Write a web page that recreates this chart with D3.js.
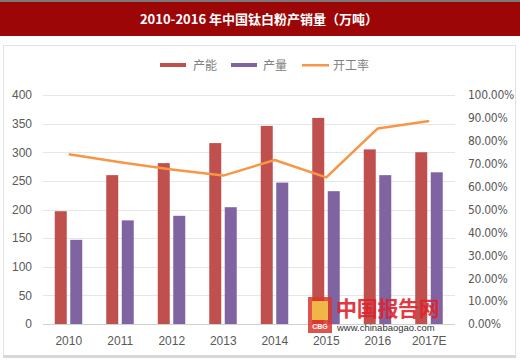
<!DOCTYPE html>
<html><head><meta charset="utf-8">
<script src="https://cdn.jsdelivr.net/npm/d3@7"></script>
<style>body{margin:0;background:#fff}svg{display:block}</style>
</head><body>
<svg id="c" width="520" height="361"></svg>
<script>
const categories = ["2010","2011","2012","2013","2014","2015","2016","2017E"];
const capacity = [197, 260, 281, 316, 346, 360, 305, 300];
const output = [147, 181, 189, 204, 247, 232, 260, 265];
const utilization = [74.1, 70.6, 67.5, 64.8, 71.6, 64.0, 85.4, 88.6];
const leftTicks = [0,50,100,150,200,250,300,350,400];
const rightTicks = [0,10,20,30,40,50,60,70,80,90,100];
const seriesNames = ["产能","产量","开工率"];
const colors = ["#c0504d","#8064a2","#f79646"];

const svg = d3.select("#c");
// title bar
svg.append("rect").attr("x",0).attr("y",0).attr("width",520).attr("height",2).attr("fill","#7a7a7a");
svg.append("rect").attr("x",0).attr("y",2).attr("width",520).attr("height",34).attr("fill","#9c0606");
svg.append("text").attr("x",259).attr("y",24).attr("text-anchor","middle")
  .attr("fill","#fff").attr("font-size",13).attr("font-weight","bold")
  .attr("font-family","'Noto Sans CJK SC','DejaVu Sans',sans-serif")
  .text("2010-2016 年中国钛白粉产销量（万吨）");
// panel
svg.append("rect").attr("x",3.5).attr("y",45.5).attr("width",512).attr("height",311)
  .attr("fill","#fff").attr("stroke","#e3e3e3");
svg.append("rect").attr("x",3).attr("y",355).attr("width",513).attr("height",3).attr("fill","#d8d8d8");

const x = d3.scaleBand().domain(categories).range([43,455]);
const y = d3.scaleLinear().domain([0,400]).range([324,95]);
const y2 = d3.scaleLinear().domain([0,100]).range([324,95]);

// grid
svg.append("g").selectAll("line").data(leftTicks).join("line")
  .attr("x1",43).attr("x2",455).attr("y1",d=>Math.round(y(d))+0.5).attr("y2",d=>Math.round(y(d))+0.5)
  .attr("stroke",d=>d===0?"#d0d0d0":"#e6e6e6");

// left axis
const la = svg.append("g").attr("transform","translate(32,0)")
  .call(d3.axisLeft(y).tickValues(leftTicks).tickSize(0).tickPadding(0));
la.select(".domain").remove();
la.selectAll("text").attr("font-size",12).attr("fill","#595959").attr("font-family","'Liberation Sans',Arial,sans-serif");

// right axis
const ra = svg.append("g").attr("transform","translate(468,0)")
  .call(d3.axisRight(y2).tickValues(rightTicks).tickSize(0).tickPadding(0).tickFormat(d=>d.toFixed(2)+"%"));
ra.select(".domain").remove();
ra.selectAll("text").attr("font-size",12).attr("fill","#595959").attr("font-family","'DejaVu Sans Condensed','DejaVu Sans',sans-serif").attr("letter-spacing","-0.3");

// bottom axis
const ba = svg.append("g").attr("transform","translate(0,324)")
  .call(d3.axisBottom(x).tickSize(0).tickPadding(12));
ba.select(".domain").remove();
ba.selectAll("text").attr("font-size",12).attr("fill","#595959").attr("font-family","'Liberation Sans',Arial,sans-serif");

// bars
const bw = 12;
svg.append("g").selectAll("rect").data(capacity).join("rect")
  .attr("x",(d,i)=>x(categories[i])+x.bandwidth()/2-14).attr("width",bw)
  .attr("y",d=>y(d)).attr("height",d=>y(0)-y(d)).attr("fill",colors[0]);
svg.append("g").selectAll("rect").data(output).join("rect")
  .attr("x",(d,i)=>x(categories[i])+x.bandwidth()/2+1.5).attr("width",bw)
  .attr("y",d=>y(d)).attr("height",d=>y(0)-y(d)).attr("fill",colors[1]);

// line
const line = d3.line().x((d,i)=>x(categories[i])+x.bandwidth()/2).y(d=>y2(d));
svg.append("path").datum(utilization).attr("d",line).attr("fill","none")
  .attr("stroke",colors[2]).attr("stroke-width",2.5).attr("stroke-linejoin","round");

// legend
const lg = svg.append("g").attr("font-size",12).attr("fill","#777")
  .attr("font-family","'Noto Sans CJK SC',sans-serif");
const lx = [160,231,302];
lg.append("rect").attr("x",lx[0]).attr("y",63).attr("width",26).attr("height",4).attr("fill",colors[0]);
lg.append("rect").attr("x",lx[1]).attr("y",63).attr("width",26).attr("height",4).attr("fill",colors[1]);
lg.append("rect").attr("x",lx[2]).attr("y",64).attr("width",27).attr("height",2.5).attr("fill",colors[2]);
lg.selectAll("text").data(seriesNames).join("text")
  .attr("x",(d,i)=>lx[i]+[33,32,31][i]).attr("y",70).attr("fill","#808080").text(d=>d);

// watermark
const wm = svg.append("g");
wm.append("rect").attr("x",308).attr("y",297).attr("width",24).attr("height",36).attr("fill","#d9362b").attr("opacity",0.85);
wm.append("rect").attr("x",312).attr("y",301).attr("width",16).attr("height",19).attr("fill","#f3c44a").attr("opacity",0.9);
wm.append("text").attr("x",320).attr("y",329).attr("text-anchor","middle").attr("font-size",7).attr("font-weight","bold")
  .attr("fill","#fff").attr("font-family","'Liberation Sans',sans-serif").text("CBG");
wm.append("text").attr("x",336).attr("y",316).attr("font-size",21).attr("font-weight","bold")
  .attr("fill","#e0232d").attr("opacity",0.9).attr("font-family","'Noto Sans CJK SC',sans-serif").attr("letter-spacing","-0.3").text("中国报告网");
wm.append("text").attr("x",337).attr("y",331).attr("font-size",9.5)
  .attr("fill","#333").attr("font-family","'Liberation Sans Narrow','Liberation Sans',sans-serif").text("www.chinabaogao.com");
</script>
</body></html>
